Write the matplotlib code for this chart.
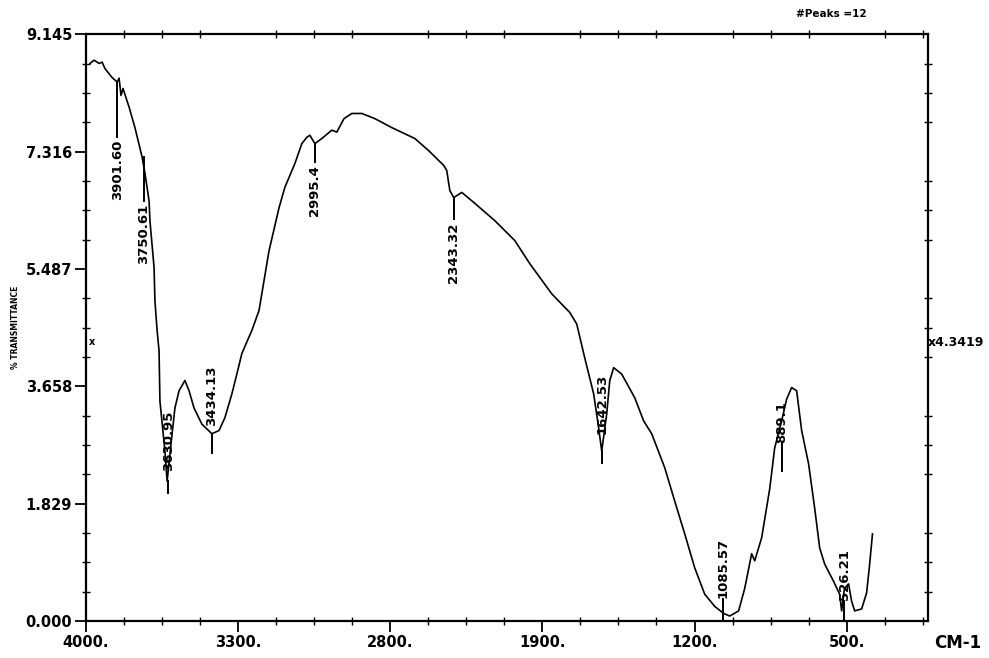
import matplotlib.pyplot as plt
from matplotlib.ticker import FixedLocator

# IR spectrum
wavenumber = [3982, 3963, 3940, 3926, 3913, 3880, 3857, 3848, 3839, 3830, 3802, 3775,
              3742, 3729, 3710, 3706, 3687, 3683, 3673, 3664, 3660, 3637, 3627, 3604,
              3591, 3572, 3545, 3526, 3503, 3467, 3421, 3388, 3361, 3329, 3306, 3283,
              3237, 3204, 3158, 3112, 3085, 3039, 3007, 2984, 2970, 2947, 2915, 2869,
              2846, 2813, 2777, 2731, 2671, 2593, 2487, 2423, 2354, 2340, 2326, 2308,
              2271, 2211, 2119, 2027, 1958, 1857, 1774, 1742, 1705, 1664, 1641, 1627,
              1604, 1590, 1572, 1535, 1475, 1434, 1397, 1337, 1291, 1245, 1199, 1153,
              1107, 1066, 1038, 997, 969, 937, 923, 891, 854, 831, 799, 776, 753, 730,
              707, 675, 647, 624, 601, 560, 532, 523, 510, 491, 477, 463, 431, 408,
              394, 381]
transmittance = [8.69, 8.74, 8.69, 8.71, 8.61, 8.47, 8.40, 8.46, 8.19, 8.30, 8.01, 7.69,
                 7.23, 6.98, 6.55, 6.24, 5.51, 4.99, 4.53, 4.21, 3.43, 2.65, 2.18, 2.92,
                 3.32, 3.59, 3.75, 3.59, 3.32, 3.07, 2.92, 2.97, 3.17, 3.54, 3.85, 4.17,
                 4.53, 4.84, 5.77, 6.44, 6.76, 7.13, 7.44, 7.54, 7.57, 7.44, 7.52, 7.65,
                 7.62, 7.83, 7.91, 7.91, 7.83, 7.69, 7.52, 7.33, 7.10, 7.02, 6.71, 6.60,
                 6.68, 6.51, 6.24, 5.93, 5.57, 5.10, 4.81, 4.63, 4.10, 3.54, 3.01, 2.65,
                 3.23, 3.75, 3.95, 3.85, 3.48, 3.12, 2.92, 2.39, 1.87, 1.36, 0.83, 0.42,
                 0.23, 0.12, 0.08, 0.16, 0.51, 1.05, 0.94, 1.30, 2.06, 2.70, 3.12, 3.46,
                 3.64, 3.59, 2.97, 2.45, 1.76, 1.14, 0.89, 0.62, 0.42, 0.16, 0.51, 0.58,
                 0.31, 0.16, 0.19, 0.44, 0.89, 1.36]

# peak picks
peak_wn = [3857, 3735, 3622, 3421, 2947, 2308, 1627, 1070, 799, 510]
peak_text = ['3901.60', '3750.61', '3630.95', '3434.13', '2995.4', '2343.32',
             '1642.53', '1085.57', '889.1', '526.21']
mark_top = [8.40, 7.23, 2.18, 2.92, 7.44, 6.60, 2.65, 0.34, 2.76, 0.31]
mark_bottom = [7.54, 6.55, 2.00, 2.62, 7.15, 6.27, 2.47, 0.00, 2.34, 0.00]
label_y = [7.50, 6.50, 2.34, 3.04, 7.10, 6.21, 2.92, 0.36, 2.78, 0.33]
label_va = ['top', 'top', 'bottom', 'bottom', 'top', 'top',
            'bottom', 'bottom', 'bottom', 'bottom']

x_major = [4000, 3300, 2600, 1900, 1200, 500]
x_labels = ['4000.', '3300.', '2800.', '1900.', '1200.', '500.']
y_major = [0.0, 1.829, 3.658, 5.487, 7.316, 9.145]
y_labels = ['0.000', '1.829', '3.658', '5.487', '7.316', '9.145']

plt.rcParams['font.family'] = ['DejaVu Sans']
plt.rcParams['font.weight'] = 'bold'

fig = plt.figure(figsize=(9.89, 6.58), dpi=100)
ax = fig.add_axes([0.087, 0.056, 0.851, 0.892])

ax.plot(wavenumber, transmittance, color='black', lw=1.2)

for wn, t0, t1, txt, ly, va in zip(peak_wn, mark_top, mark_bottom, peak_text, label_y, label_va):
    ax.plot([wn, wn], [t0, t1], color='black', lw=1.4)
    ax.text(wn, ly, txt, rotation=90, ha='center', va=va, fontsize=9.5,
            fontweight='bold')

ax.set_xlim(4000, 127)
ax.set_ylim(0, 9.145)

ax.xaxis.set_major_locator(FixedLocator(x_major))
ax.set_xticklabels(x_labels)
ax.xaxis.set_minor_locator(FixedLocator([4000 - 175 * i for i in range(23)]))
ax.yaxis.set_major_locator(FixedLocator(y_major))
ax.set_yticklabels(y_labels)
ax.yaxis.set_minor_locator(FixedLocator([9.145 / 20 * i for i in range(21)]))

ax.tick_params(which='major', direction='out', length=8, width=1.3, labelsize=10.5, pad=2)
ax.tick_params(which='minor', direction='inout', length=6, width=1.0,
               top=True, right=True)
for lab in ax.get_xticklabels() + ax.get_yticklabels():
    lab.set_fontweight('bold')
for sp in ax.spines.values():
    sp.set_linewidth(1.6)

# level marker and annotations
ax.text(3985, 4.3419, 'x', ha='left', va='center', fontsize=7, fontweight='bold')
ax.text(1.0, 4.3419 / 9.145, 'x4.3419', transform=ax.transAxes, ha='left',
        va='center', fontsize=9, fontweight='bold')
fig.text(0.016, 1 - 327 / 658, '% TRANSMITTANCE', rotation=90, ha='center',
         va='center', fontsize=5.5, fontweight='bold')
fig.text(0.805, 1 - 14 / 658, '#Peaks =12', ha='left', va='center', fontsize=7.5,
         fontweight='bold')
fig.text(0.945, 1 - 643 / 658, 'CM-1', ha='left', va='center', fontsize=12)

fig.savefig('out.png', dpi=100)
